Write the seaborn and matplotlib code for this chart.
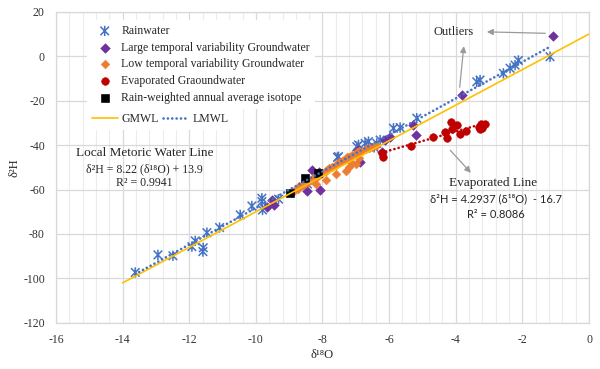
import numpy as np
import pandas as pd
import matplotlib
matplotlib.use("Agg")
import matplotlib.pyplot as plt
from matplotlib.path import Path
import seaborn as sns

# values
rain_o18 = [-13.62, -12.94, -12.49, -11.92, -11.82, -11.58, -11.59, -11.47, -11.09, -10.47,
            -10.12, -9.82, -9.82, -9.80, -9.32, -8.45, -7.55, -7.52, -6.97, -6.92,
            -6.72, -6.62, -6.45, -6.37, -6.27, -5.87, -5.67, -5.17, -3.37, -3.27,
            -2.57, -2.37, -2.22, -2.12, -1.17]
rain_h2 = [-97.3, -89.4, -89.8, -85.7, -83.1, -86.2, -87.9, -79.4, -77.1, -71.4,
           -67.4, -63.9, -65.4, -69.2, -64.3, -57.5, -45.5, -45.2, -40.7, -39.9,
           -39.2, -38.4, -41.0, -39.2, -37.7, -32.4, -32.1, -27.9, -11.5, -10.7,
           -7.7, -5.4, -4.0, -1.9, -0.2]

large_o18 = [-9.67, -9.52, -9.47, -8.47, -8.32, -8.12, -8.07, -6.97, -6.92, -6.87,
             -6.22, -6.12, -5.97, -5.27, -5.19, -3.82, -1.07]
large_h2 = [-67.7, -64.7, -66.9, -60.5, -51.2, -51.9, -60.0, -43.7, -42.2, -47.4,
            -42.9, -37.7, -36.5, -30.9, -35.4, -17.4, 9.1]

low_o18 = [-8.95, -8.85, -8.75, -8.7, -8.6, -8.5, -8.45, -8.35, -8.3, -8.2,
           -8.1, -8.05, -8.0, -7.9, -7.85, -7.8, -7.7, -7.6, -7.55, -7.5,
           -7.4, -7.3, -7.25, -7.2, -7.1, -7.0, -6.95, -6.9, -6.8, -6.7,
           -6.6, -6.5, -6.4, -7.9, -7.3, -7.2, -7.0, -8.2, -7.6, -7.1, -6.9]
low_h2 = [-61.5, -60.5, -59.8, -58.5, -58.0, -57.0, -56.5, -55.8, -55.0, -54.8,
          -53.5, -52.8, -52.5, -51.8, -51.0, -50.5, -49.8, -49.0, -48.5, -47.6,
          -47.0, -46.2, -45.5, -45.2, -44.5, -44.0, -43.2, -42.8, -42.5, -41.8,
          -41.5, -41.0, -40.5, -55.8, -51.5, -50.0, -48.5, -57.5, -53.0, -48.0, -46.0]

evap_o18 = [-6.22, -6.19, -5.35, -4.69, -4.32, -4.25, -4.14, -3.97, -4.10, -3.87,
            -3.69, -3.30, -3.25, -3.17, -3.22, -3.12, -3.28]
evap_h2 = [-43.5, -45.5, -40.4, -36.2, -34.0, -36.9, -29.8, -31.0, -32.8, -35.0,
           -33.5, -31.8, -30.5, -31.0, -32.4, -30.6, -32.8]

avg_o18 = [-8.99, -8.52, -8.14]
avg_h2 = [-61.6, -54.9, -52.4]

# lines: slope, intercept, x range
gmwl = (8.0, 10.0, [-14.0, 0.0])
lmwl = (8.22, 13.9, [-13.62, -1.17])
evap_line = (4.2937, -16.7, [-6.22, -3.12])

sns.set_theme(style="white")
plt.rcParams['font.family'] = ['Liberation Serif', 'DejaVu Serif']
plt.rcParams['axes.unicode_minus'] = False

fig, ax = plt.subplots(figsize=(6, 3.69), dpi=100)
fig.subplots_adjust(left=0.0933, right=0.9817, top=0.968, bottom=0.125)

blue, purple, orange, red = "#4472C4", "#7030A0", "#ED7D31", "#C00000"
# excel-like star: an X with a vertical bar
star = Path([(-1, -1), (1, 1), (-1, 1), (1, -1), (0, -1.2), (0, 1.2)],
            [Path.MOVETO, Path.LINETO, Path.MOVETO, Path.LINETO, Path.MOVETO, Path.LINETO])

sns.scatterplot(x=rain_o18, y=rain_h2, marker=star, s=55, facecolor="none", edgecolor=blue,
                linewidth=1.1, label="Rainwater", ax=ax, zorder=3)
sns.scatterplot(x=large_o18, y=large_h2, marker="D", s=24, color=purple, edgecolor=purple,
                label="Large temporal variability Groundwater", ax=ax, zorder=3)
sns.scatterplot(x=low_o18, y=low_h2, marker="D", s=20, color=orange, edgecolor=orange,
                label="Low temporal variability Groundwater", ax=ax, zorder=3)
sns.scatterplot(x=evap_o18, y=evap_h2, marker="o", s=30, color=red, edgecolor=red,
                label="Evaporated Graoundwater", ax=ax, zorder=3)
sns.scatterplot(x=avg_o18, y=avg_h2, marker="s", s=32, color="black", edgecolor="black",
                label="Rain-weighted annual average isotope", ax=ax, zorder=4)

def trend(params):
    k, b, xr = params
    xs = np.array(xr)
    return xs, k * xs + b

dots = (0, (0.05, 1.6))
gx, gy = trend(gmwl)
sns.lineplot(x=gx, y=gy, color="#FFC000", lw=1.2, label="GMWL", ax=ax, zorder=5)
lx, ly = trend(lmwl)
sns.lineplot(x=lx, y=ly, color=blue, lw=1.9, ls=dots, label="LMWL", ax=ax, zorder=5,
             dash_capstyle="round")
ex, ey = trend(evap_line)
sns.lineplot(x=ex, y=ey, color=red, lw=1.9, ls=dots, ax=ax, zorder=5,
             dash_capstyle="round")

ax.set_xlim(-16, 0)
ax.set_ylim(-120, 20)
ax.set_xticks(np.arange(-16, 1, 2))
ax.set_yticks(np.arange(-120, 21, 20))
ax.set_xticks(np.arange(-16, 0.01, 0.4), minor=True)
ax.grid(which="major", color="#d9d9d9", lw=0.9)
ax.grid(which="minor", axis="x", color="#ececec", lw=0.8)
ax.set_axisbelow(True)
for s in ax.spines.values():
    s.set_color("#d9d9d9")
    s.set_linewidth(0.9)
ax.tick_params(which="both", length=0, labelsize=8.5, colors="#333333")
ax.tick_params(axis="y", pad=8)
ax.tick_params(axis="x", pad=8)
ax.set_xlabel("δ¹⁸O", fontsize=9, labelpad=2)
ax.set_ylabel("δ²H", fontsize=9, labelpad=2)

# legends
h, l = ax.get_legend_handles_labels()
leg1 = ax.legend(h[:5], l[:5], loc="upper left", bbox_to_anchor=(0.145, 0.945),
                 bbox_transform=fig.transFigure, fontsize=8.5, frameon=True, facecolor="white",
                 edgecolor="none", framealpha=1, fancybox=False, handlelength=2.2,
                 handletextpad=0.3, labelspacing=0.4, borderpad=0.4, borderaxespad=0)
ax.add_artist(leg1)
leg2 = ax.legend(h[5:], l[5:], loc="upper left", bbox_to_anchor=(0.145, 0.706),
                 bbox_transform=fig.transFigure, fontsize=8.5, frameon=True, facecolor="white",
                 edgecolor="none", framealpha=1, fancybox=False, handlelength=2.2,
                 handletextpad=0.3, columnspacing=0.4, ncol=2, borderpad=0.4, borderaxespad=0)

# annotations
serif = ["Liberation Serif", "DejaVu Serif"]
ax.text(-13.35, -43.4, "Local Metoric Water Line", ha="center", va="center", fontsize=9.5, family=serif)
ax.text(-13.35, -50.9, "δ²H = 8.22 (δ¹⁸O) + 13.9", ha="center", va="center", fontsize=8.5, family=serif)
ax.text(-13.35, -56.9, "R² = 0.9941", ha="center", va="center", fontsize=8.5, family=serif)

ax.text(-4.05, 10.7, "Outliers", ha="center", va="center", fontsize=9, family=serif)
arrow = dict(arrowstyle="-|>", color="#9a9a9a", lw=0.9, mutation_scale=9)
ax.annotate("", xy=(-3.15, 11.0), xytext=(-1.23, 10.3), arrowprops=arrow)
ax.annotate("", xy=(-3.75, 5.8), xytext=(-3.89, -15.2), arrowprops=arrow)
ax.annotate("", xy=(-3.49, -53.4), xytext=(-4.22, -41.4), arrowprops=arrow)

sans = ["Lato", "DejaVu Sans"]
ax.text(-2.87, -57.1, "Evaporated Line", ha="center", va="center", fontsize=9.5, family=serif)
ax.text(-2.80, -64.3, "δ²H = 4.2937 (δ¹⁸O)  - 16.7", ha="center", va="center", fontsize=8, family=sans)
ax.text(-2.80, -71.0, "R² = 0.8086", ha="center", va="center", fontsize=8, family=sans)

fig.savefig("out.png", dpi=100)
